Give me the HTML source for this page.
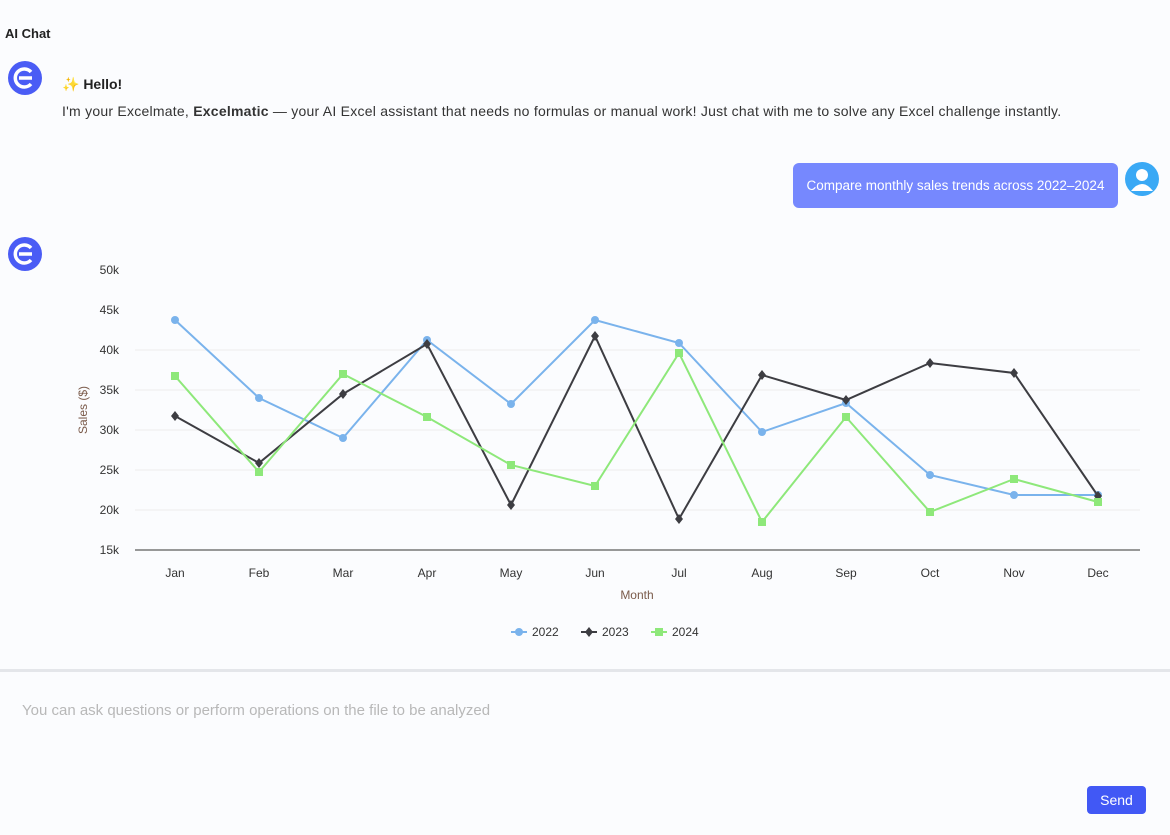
<!DOCTYPE html>
<html><head><meta charset="utf-8"><style>
body{margin:0;width:1170px;height:835px;background:#fbfcfe;font-family:"Liberation Sans","Noto Sans CJK SC",sans-serif;position:relative;overflow:hidden;color:#222}
.a{position:absolute}
.logo{width:34px;height:34px;border-radius:50%;background:#4a5cf5}
</style></head><body>
<div class="a" style="left:5px;top:26px;font-size:13px;font-weight:bold">AI Chat</div>
<div class="a logo" style="left:8px;top:61px"><svg width="34" height="34"><path d="M23 11 A9 9 0 1 0 23 23" fill="none" stroke="#fff" stroke-width="3.5"/><line x1="11" y1="17" x2="24" y2="17" stroke="#fff" stroke-width="3.5"/></svg></div>
<div class="a" style="left:62px;top:76px;font-size:14px;font-weight:bold">✨ Hello!</div>
<div class="a" style="left:62px;top:103px;font-size:14px;color:#333;letter-spacing:0.24px;white-space:nowrap">I'm your Excelmate, <b>Excelmatic</b> — your AI Excel assistant that needs no formulas or manual work! Just chat with me to solve any Excel challenge instantly.</div>
<div class="a" style="left:793px;top:163px;width:325px;height:45px;background:#7688fe;border-radius:6px;color:#fff;font-size:13.5px;line-height:45px;text-align:center">Compare monthly sales trends across 2022–2024</div>
<div class="a" style="left:1125px;top:162px;width:34px;height:34px;border-radius:50%;background:#3aa9f5;overflow:hidden"><svg width="34" height="34"><circle cx="17" cy="13" r="6" fill="#fff"/><path d="M6 29 Q17 15 28 29 Z" fill="#fff"/></svg></div>
<div class="a logo" style="left:8px;top:237px"><svg width="34" height="34"><path d="M23 11 A9 9 0 1 0 23 23" fill="none" stroke="#fff" stroke-width="3.5"/><line x1="11" y1="17" x2="24" y2="17" stroke="#fff" stroke-width="3.5"/></svg></div>
<svg class="a" style="left:0;top:0" width="1170" height="660" font-family="Liberation Sans, sans-serif" font-size="12" fill="#333">
<g stroke="#ececec"><line x1="135" x2="1140" y1="350" y2="350"/><line x1="135" x2="1140" y1="390" y2="390"/><line x1="135" x2="1140" y1="430" y2="430"/><line x1="135" x2="1140" y1="470" y2="470"/><line x1="135" x2="1140" y1="510" y2="510"/></g>
<line x1="135" x2="1140" y1="550" y2="550" stroke="#333"/>
<g text-anchor="end"><text x="119" y="274">50k</text><text x="119" y="314">45k</text><text x="119" y="354">40k</text><text x="119" y="394">35k</text><text x="119" y="434">30k</text><text x="119" y="474">25k</text><text x="119" y="514">20k</text><text x="119" y="554">15k</text></g>
<g text-anchor="middle"><text x="175" y="577">Jan</text><text x="259" y="577">Feb</text><text x="343" y="577">Mar</text><text x="427" y="577">Apr</text><text x="511" y="577">May</text><text x="595" y="577">Jun</text><text x="679" y="577">Jul</text><text x="762" y="577">Aug</text><text x="846" y="577">Sep</text><text x="930" y="577">Oct</text><text x="1014" y="577">Nov</text><text x="1098" y="577">Dec</text>
<text x="637" y="599" fill="#7a5a4a">Month</text>
<text transform="translate(87 410) rotate(-90)" fill="#7a5a4a">Sales ($)</text></g>
<polyline fill="none" stroke="#7ab3ec" stroke-width="2" points="175,320 259,398 343,438 427,340 511,404 595,320 679,343 762,432 846,403 930,475 1014,495 1098,495"/>
<g fill="#7ab3ec"><circle cx="175" cy="320" r="4"/><circle cx="259" cy="398" r="4"/><circle cx="343" cy="438" r="4"/><circle cx="427" cy="340" r="4"/><circle cx="511" cy="404" r="4"/><circle cx="595" cy="320" r="4"/><circle cx="679" cy="343" r="4"/><circle cx="762" cy="432" r="4"/><circle cx="846" cy="403" r="4"/><circle cx="930" cy="475" r="4"/><circle cx="1014" cy="495" r="4"/><circle cx="1098" cy="495" r="4"/></g>
<polyline fill="none" stroke="#3d3d42" stroke-width="2" points="175,416 259,463 343,394 427,344 511,505 595,336 679,519 762,375 846,400 930,363 1014,373 1098,496"/>
<g fill="#3d3d42"><path d="M175,411l4,5l-4,5l-4,-5z"/><path d="M259,458l4,5l-4,5l-4,-5z"/><path d="M343,389l4,5l-4,5l-4,-5z"/><path d="M427,339l4,5l-4,5l-4,-5z"/><path d="M511,500l4,5l-4,5l-4,-5z"/><path d="M595,331l4,5l-4,5l-4,-5z"/><path d="M679,514l4,5l-4,5l-4,-5z"/><path d="M762,370l4,5l-4,5l-4,-5z"/><path d="M846,395l4,5l-4,5l-4,-5z"/><path d="M930,358l4,5l-4,5l-4,-5z"/><path d="M1014,368l4,5l-4,5l-4,-5z"/><path d="M1098,491l4,5l-4,5l-4,-5z"/></g>
<polyline fill="none" stroke="#8ee87a" stroke-width="2" points="175,376 259,472 343,374 427,417 511,465 595,486 679,353 762,522 846,417 930,512 1014,479 1098,502"/>
<g fill="#8ee87a"><rect x="171" y="372" width="8" height="8"/><rect x="255" y="468" width="8" height="8"/><rect x="339" y="370" width="8" height="8"/><rect x="423" y="413" width="8" height="8"/><rect x="507" y="461" width="8" height="8"/><rect x="591" y="482" width="8" height="8"/><rect x="675" y="349" width="8" height="8"/><rect x="758" y="518" width="8" height="8"/><rect x="842" y="413" width="8" height="8"/><rect x="926" y="508" width="8" height="8"/><rect x="1010" y="475" width="8" height="8"/><rect x="1094" y="498" width="8" height="8"/></g>
<line x1="511" x2="527" y1="632" y2="632" stroke="#7ab3ec" stroke-width="2"/><circle cx="519" cy="632" r="4" fill="#7ab3ec"/><text x="532" y="636">2022</text>
<line x1="581" x2="597" y1="632" y2="632" stroke="#3d3d42" stroke-width="2"/><path d="M589,627l4,5l-4,5l-4,-5z" fill="#3d3d42"/><text x="602" y="636">2023</text>
<line x1="651" x2="667" y1="632" y2="632" stroke="#8ee87a" stroke-width="2"/><rect x="655" y="628" width="8" height="8" fill="#8ee87a"/><text x="672" y="636">2024</text>
</svg>
<div class="a" style="left:0;top:669px;width:1170px;height:3px;background:#e4e6ea"></div>
<div class="a" style="left:22px;top:702px;font-size:15px;color:#b8b8b8">You can ask questions or perform operations on the file to be analyzed</div>
<div class="a" style="left:1087px;top:786px;width:59px;height:28px;background:#4158f5;border-radius:4px;color:#fff;font-size:14px;line-height:28px;text-align:center">Send</div>
</body></html>
